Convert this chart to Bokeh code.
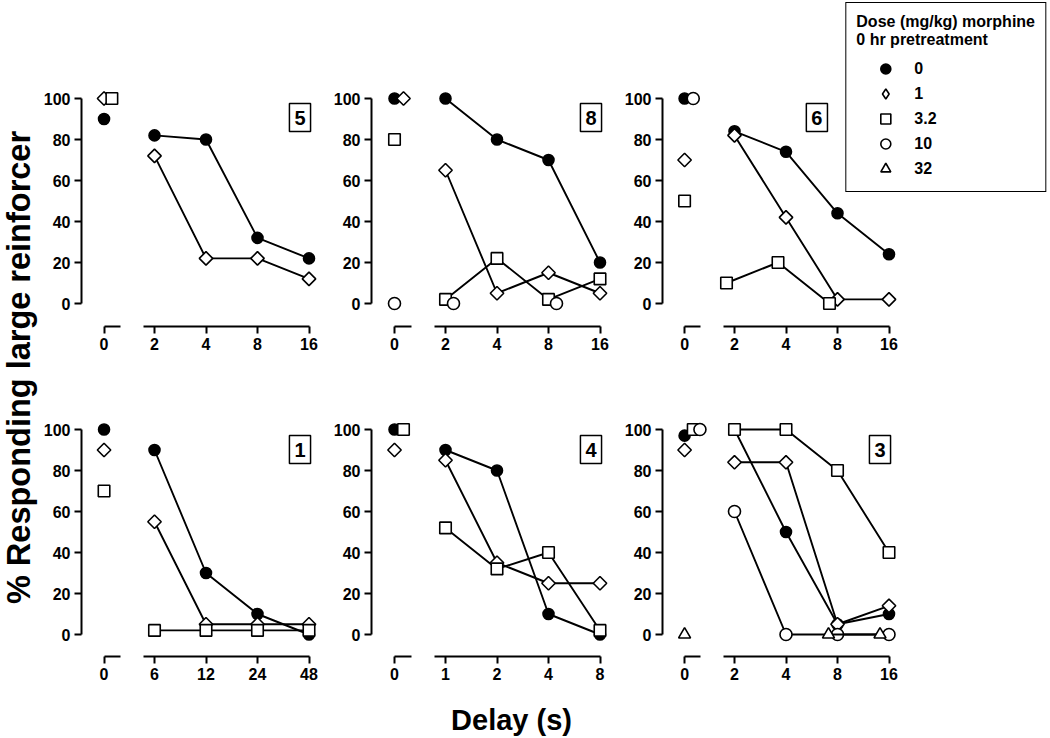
import math
import numpy as np
from bokeh.plotting import figure
from bokeh.models import Range1d, FixedTicker, Label, Legend, LegendItem
from bokeh.layouts import row, column
from bokeh.embed import file_html
from bokeh.resources import INLINE
from bokeh.core.properties import value

# ---------------- data ----------------
dose_labels = ["0", "1", "3.2", "10", "32"]

# panel 5 (top left)
p5_delays = [2, 4, 8, 16]
p5_zero = [90, 100, 100, None, None]
p5_d0 = [82, 80, 32, 22]
p5_d1 = [72, 22, 22, 12]

# panel 8 (top middle)
p8_delays = [2, 4, 8, 16]
p8_zero = [100, 100, 80, 0, None]
p8_d0 = [100, 80, 70, 20]
p8_d1 = [65, 5, 15, 5]
p8_d32 = [2, 22, 2, 12]
p8_d10 = [0, None, 0, None]

# panel 6 (top right)
p6_delays = [2, 4, 8, 16]
p6_zero = [100, 70, 50, 100, None]
p6_d0 = [84, 74, 44, 24]
p6_d1 = [82, 42, 2, 2]
p6_d32 = [10, 20, 0, None]

# panel 1 (bottom left)
p1_delays = [6, 12, 24, 48]
p1_zero = [100, 90, 70, None, None]
p1_d0 = [90, 30, 10, 0]
p1_d1 = [55, 5, 5, 5]
p1_d32 = [2, 2, 2, 2]

# panel 4 (bottom middle)
p4_delays = [1, 2, 4, 8]
p4_zero = [100, 90, 100, None, None]
p4_d0 = [90, 80, 10, 0]
p4_d1 = [85, 35, 25, 25]
p4_d32 = [52, 32, 40, 2]

# panel 3 (bottom right)
p3_delays = [2, 4, 8, 16]
p3_zero = [97, 90, 100, 100, 0]
p3_d0 = [100, 50, 5, 10]
p3_d1 = [84, 84, 5, 14]
p3_d32 = [100, 100, 80, 40]
p3_d10 = [60, 0, 0, 0]
p3_d320 = [None, None, 0, 0]

y_ticks = [0, 20, 40, 60, 80, 100]

# ---------------- style ----------------
FONT = "Liberation Sans"
STEP = 51.5          # px per doubling of delay
ZW = 50              # zero sub-panel frame width
MARK = {
    "0":   dict(marker="circle", size=11, fill_color="black", angle=0.0),
    "1":   dict(marker="square", size=9.5, fill_color="white", angle=math.pi / 4),
    "3.2": dict(marker="square", size=11.5, fill_color="white", angle=0.0),
    "10":  dict(marker="circle", size=12, fill_color="white", angle=0.0),
    "32":  dict(marker="triangle", size=12, fill_color="white", angle=0.0),
}
# legend glyphs are drawn unrotated, so the diamond uses Bokeh's diamond marker there
LEG_MARK = dict(MARK)
LEG_MARK["1"] = dict(marker="diamond", size=12, fill_color="white", angle=0.0)


def style_axis(ax):
    ax.axis_line_width = 2
    ax.axis_line_color = "black"
    ax.major_tick_line_width = 2
    ax.major_tick_line_color = "black"
    ax.major_tick_out = 7
    ax.major_tick_in = 0
    ax.minor_tick_out = 0
    ax.minor_tick_in = 0
    ax.major_label_text_font = FONT
    ax.major_label_text_font_style = "bold"
    ax.major_label_text_font_size = "16px"
    ax.major_label_text_color = "black"
    ax.major_label_standoff = 4


def base_fig(width, height, xr, yr, bl, bb, yaxis):
    p = figure(width=width, height=height, x_range=xr, y_range=yr,
               min_border_left=bl, min_border_right=0, min_border_top=0,
               min_border_bottom=bb, toolbar_location=None, output_backend="svg",
               x_axis_location="below", y_axis_location="left" if yaxis else None)
    p.outline_line_color = None
    p.xgrid.grid_line_color = None
    p.ygrid.grid_line_color = None
    p.background_fill_color = "white"
    p.border_fill_color = "white"
    for ax in p.axis:
        style_axis(ax)
    return p


def zero_fig(yr, height, bl, bb, zero_vals, offs):
    p = base_fig(bl + ZW, height, Range1d(-23, ZW - 23), yr, bl, bb, True)
    p.xaxis.ticker = FixedTicker(ticks=[0])
    p.xaxis.bounds = (0, 17)
    p.yaxis.ticker = FixedTicker(ticks=y_ticks)
    p.yaxis.bounds = (0, 100)
    for d, v in zip(dose_labels, zero_vals):
        if v is None:
            continue
        p.scatter([0 + offs.get(d, 0)], [v], line_color="black", line_width=1.6, **MARK[d])
    return p


def main_fig(yr, height, width, bb, delays, series, offs, tag, tag_xy):
    start = -24 / STEP
    p = base_fig(width, height, Range1d(start, start + width / STEP), yr, 0, bb, False)
    pos = np.log2(np.array(delays, dtype=float) / delays[0])
    p.xaxis.ticker = FixedTicker(ticks=list(pos))
    p.xaxis.major_label_overrides = {float(x): str(d) for x, d in zip(pos, delays)}
    p.xaxis.bounds = (-11 / STEP, float(pos[-1]))
    for d in dose_labels:
        if d not in series:
            continue
        vals = np.array([np.nan if v is None else v for v in series[d]], dtype=float)
        x = pos + offs.get(d, 0) / STEP
        p.line(x, vals, line_color="black", line_width=1.9)
        p.scatter(x, vals, line_color="black", line_width=1.6, **MARK[d])
    p.add_layout(Label(x=tag_xy[0], y=tag_xy[1], text=tag, text_font=FONT,
                       text_font_style="bold", text_font_size="20px", text_color="black",
                       text_align="center", text_baseline="middle",
                       border_line_color="black", border_line_width=1.5,
                       background_fill_color="white", padding=(5, 7)))
    return p


# ranges: 2.05 px per percentage point
top_yr = Range1d(-23 / 2.05, 100 + 98 / 2.05)
bot_yr = Range1d(-22 / 2.05, 100 + 29 / 2.05)
TOP_H, TOP_BB = 400, 74
BOT_H, BOT_BB = 296, 40

# top row
z5 = zero_fig(top_yr, TOP_H, 40, TOP_BB, p5_zero, {"3.2": 8})
m5 = main_fig(top_yr, TOP_H, 200, TOP_BB, p5_delays, {"0": p5_d0, "1": p5_d1}, {},
              "5", (2.825, 90.7))
z8 = zero_fig(top_yr, TOP_H, 41, TOP_BB, p8_zero, {"1": 9})
m8 = main_fig(top_yr, TOP_H, 200, TOP_BB, p8_delays,
              {"0": p8_d0, "1": p8_d1, "3.2": p8_d32, "10": p8_d10}, {"10": 8},
              "8", (2.825, 90.7))
z6 = zero_fig(top_yr, TOP_H, 39, TOP_BB, p6_zero, {"10": 9})
m6 = main_fig(top_yr, TOP_H, 338, TOP_BB, p6_delays,
              {"0": p6_d0, "1": p6_d1, "3.2": p6_d32}, {"3.2": -8},
              "6", (1.60, 90.7))

# legend inside the top-right panel (legend-only renderers carry no visible point)
items = []
for d in dose_labels:
    r = m6.scatter([np.nan], [np.nan], line_color="black", line_width=1.6, **LEG_MARK[d])
    items.append(LegendItem(label=d, renderers=[r]))
leg = Legend(items=items, location="top_right",
             title="Dose (mg/kg) morphine\n0 hr pretreatment",
             title_text_font=FONT, title_text_font_style="bold", title_text_font_size="16px",
             title_text_color="black", title_standoff=7,
             label_text_font=FONT, label_text_font_style="bold", label_text_font_size="16px",
             label_text_color="black",
             glyph_width=58, glyph_height=25, label_height=25, label_standoff=-2, spacing=0,
             padding=10, margin=2, border_line_color="black", border_line_width=1.2,
             border_line_alpha=1.0,
             background_fill_color="white", background_fill_alpha=1.0)
m6.add_layout(leg)

# bottom row
z1 = zero_fig(bot_yr, BOT_H, 40, BOT_BB, p1_zero, {})
m1 = main_fig(bot_yr, BOT_H, 200, BOT_BB, p1_delays,
              {"0": p1_d0, "1": p1_d1, "3.2": p1_d32}, {}, "1", (2.825, 90.2))
z4 = zero_fig(bot_yr, BOT_H, 41, BOT_BB, p4_zero, {"3.2": 9})
m4 = main_fig(bot_yr, BOT_H, 200, BOT_BB, p4_delays,
              {"0": p4_d0, "1": p4_d1, "3.2": p4_d32}, {}, "4", (2.825, 90.2))
z3 = zero_fig(bot_yr, BOT_H, 39, BOT_BB, p3_zero, {"3.2": 9, "10": 16})
m3 = main_fig(bot_yr, BOT_H, 200, BOT_BB, p3_delays,
              {"0": p3_d0, "1": p3_d1, "3.2": p3_d32, "10": p3_d10, "32": p3_d320},
              {"32": -9}, "3", (2.825, 90.2))


def blank(width, height):
    p = figure(width=width, height=height, x_range=Range1d(0, width), y_range=Range1d(0, height),
               min_border=0, toolbar_location=None, output_backend="svg",
               x_axis_location=None, y_axis_location=None)
    p.outline_line_color = None
    p.xgrid.grid_line_color = None
    p.ygrid.grid_line_color = None
    return p


ylab = blank(40, 738)
ylab.text(x=[18], y=[371], text=["% Responding large reinforcer"], angle=math.pi / 2,
          text_font=value(FONT), text_font_style="bold", text_font_size="32.5px",
          text_align="center", text_baseline="middle", text_color="black")

xlab = blank(942, 42)
xlab.text(x=[471], y=[19], text=["Delay (s)"], text_font=value(FONT), text_font_style="bold",
          text_font_size="29px", text_align="center", text_baseline="middle",
          text_color="black")

layout = row(ylab, column(row(z5, m5, z8, m8, z6, m6),
                          row(z1, m1, z4, m4, z3, m3),
                          xlab))

open("out.html", "w").write(file_html(layout, INLINE))
